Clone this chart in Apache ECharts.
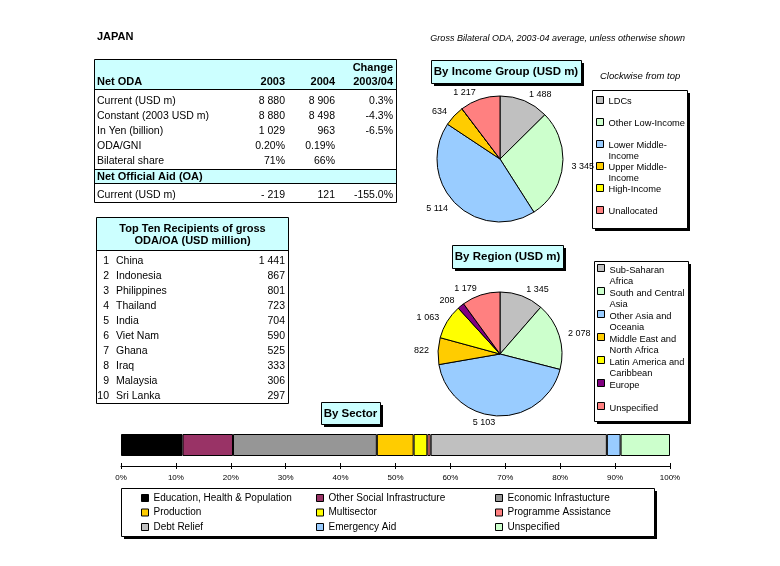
<!DOCTYPE html>
<html><head><meta charset="utf-8">
<script src="https://cdn.jsdelivr.net/npm/echarts@6/dist/echarts.min.js"></script>
<style>html,body{margin:0;padding:0;background:#fff}#c{width:780px;height:566px}</style>
</head><body><div id="c"></div>
<script>
const FONT = '"Liberation Sans", Arial, sans-serif';

// ---- Net ODA table ----
const odaHeaderTop = ['', '', '', 'Change'];
const odaHeader = ['Net ODA', '2003', '2004', '2003/04'];
const odaRowLabels = ['Current (USD m)', 'Constant (2003 USD m)', 'In Yen (billion)', 'ODA/GNI', 'Bilateral share'];
const oda2003 = ['8 880', '8 880', '1 029', '0.20%', '71%'];
const oda2004 = ['8 906', '8 498', '963', '0.19%', '66%'];
const odaChange = ['0.3%', '-4.3%', '-6.5%', '', ''];
const oaHeader = 'Net Official Aid (OA)';
const oaRow = ['Current (USD m)', '- 219', '121', '-155.0%'];

// ---- Top ten recipients ----
const recipientsTitle = ['Top Ten Recipients of gross', 'ODA/OA (USD million)'];
const recipientRanks = [1, 2, 3, 4, 5, 6, 7, 8, 9, 10];
const recipientNames = ['China', 'Indonesia', 'Philippines', 'Thailand', 'India', 'Viet Nam', 'Ghana', 'Iraq', 'Malaysia', 'Sri Lanka'];
const recipientValues = [1441, 867, 801, 723, 704, 590, 525, 333, 306, 297];

// ---- By income group ----
const incomeGroups = ['LDCs', 'Other Low-Income', 'Lower Middle-Income', 'Upper Middle-Income', 'High-Income', 'Unallocated'];
const incomeLegendText = ['LDCs', 'Other Low-Income', 'Lower Middle-\nIncome', 'Upper Middle-\nIncome', 'High-Income', 'Unallocated'];
const incomeValues = [1488, 3345, 5114, 634, 0, 1217];
const incomeColors = ['#C0C0C0', '#CCFFCC', '#99CCFF', '#FFCC00', '#FFFF00', '#FF8080'];

// ---- By region ----
const regions = ['Sub-Saharan Africa', 'South and Central Asia', 'Other Asia and Oceania', 'Middle East and North Africa', 'Latin America and Caribbean', 'Europe', 'Unspecified'];
const regionLegendText = ['Sub-Saharan\nAfrica', 'South and Central\nAsia', 'Other Asia and\nOceania', 'Middle East and\nNorth Africa', 'Latin America and\nCaribbean', 'Europe', 'Unspecified'];
const regionValues = [1345, 2078, 5103, 822, 1063, 208, 1179];
const regionColors = ['#C0C0C0', '#CCFFCC', '#99CCFF', '#FFCC00', '#FFFF00', '#800080', '#FF8080'];

// ---- By sector (% shares) ----
const sectors = ['Education, Health & Population', 'Other Social Infrastructure', 'Economic Infrastucture', 'Production', 'Multisector', 'Programme Assistance', 'Debt Relief', 'Emergency Aid', 'Unspecified'];
const sectorShares = [11.2, 9.2, 26.2, 6.7, 2.5, 0.6, 32.1, 2.5, 9.0];
const sectorColors = ['#000000', '#993366', '#969696', '#FFCC00', '#FFFF00', '#FF8080', '#C0C0C0', '#99CCFF', '#CCFFCC'];
const sectorLegendColumns = [[0, 3, 6], [1, 4, 7], [2, 5, 8]];

// ---- texts ----
const countryTitle = 'JAPAN';
const subtitle = 'Gross Bilateral ODA, 2003-04 average, unless otherwise shown';
const clockwiseNote = 'Clockwise from top';
const incomeTitle = 'By Income Group (USD m)';
const regionTitle = 'By Region (USD m)';
const sectorTitle = 'By Sector';

const fmt = v => String(v).replace(/\B(?=(\d{3})+(?!\d))/g, ' ');
const SECTOR_PREFIX = 'Sector: ';

function font(size, bold, italic) {
  return (italic ? 'italic ' : '') + (bold ? 'bold ' : '') + size + 'px ' + FONT;
}
function txt(text, x, y, o) {
  o = o || {};
  return { type: 'text', x: x, y: y, z: 20, silent: true,
    style: { text: text, font: font(o.size || 10.5, o.bold, o.italic), fill: '#000',
      align: o.align || 'left', verticalAlign: 'middle' } };
}
function rect(x, y, w, h, fill, stroke, z) {
  return { type: 'rect', z: z || 1, silent: true, shape: { x: x, y: y, width: w, height: h },
    style: { fill: fill || 'none', stroke: stroke || null, lineWidth: 1 } };
}
function hline(x1, x2, y) {
  return { type: 'line', z: 3, silent: true, shape: { x1: x1, y1: y, x2: x2, y2: y }, style: { stroke: '#000', lineWidth: 1 } };
}
function shadowBox(x, y, w, h, fill) {
  return [rect(x + 3, y + 3, w, h, '#000', null, 1), rect(x + 0.5, y + 0.5, w, h, fill, '#000', 2)];
}

const g = [];
// headings
g.push(txt(countryTitle, 97, 37, { size: 11, bold: true }));
g.push(txt(subtitle, 685, 38, { size: 9, italic: true, align: 'right' }));
g.push(txt(clockwiseNote, 600, 76, { size: 9.5, italic: true }));

// Table 1
g.push(rect(94.5, 59.5, 302, 30, '#CCFFFF', null, 1));
g.push(rect(94.5, 169.5, 302, 14, '#CCFFFF', null, 1));
g.push(rect(94.5, 59.5, 302, 143, 'none', '#000', 3));
g.push(hline(94.5, 396.5, 89.5));
g.push(hline(94.5, 396.5, 169.5));
g.push(hline(94.5, 396.5, 183.5));
const t1ColX = [97, 285, 335, 393];
const t1Align = ['left', 'right', 'right', 'right'];
odaHeaderTop.forEach((s, i) => { if (s) g.push(txt(s, t1ColX[i], 68, { bold: true, size: 11, align: t1Align[i] })); });
odaHeader.forEach((s, i) => g.push(txt(s, t1ColX[i], 82, { bold: true, size: 11, align: t1Align[i] })));
odaRowLabels.forEach((lab, r) => {
  const y = 101 + r * 15;
  [lab, oda2003[r], oda2004[r], odaChange[r]].forEach((s, i) => { if (s) g.push(txt(s, t1ColX[i], y, { align: t1Align[i] })); });
});
g.push(txt(oaHeader, 97, 176.5, { bold: true, size: 11 }));
oaRow.forEach((s, i) => g.push(txt(s, t1ColX[i], 195, { align: t1Align[i] })));

// Table 2
g.push(rect(96.5, 217.5, 192, 33, '#CCFFFF', null, 1));
g.push(rect(96.5, 217.5, 192, 186, 'none', '#000', 3));
g.push(hline(96.5, 288.5, 250.5));
recipientsTitle.forEach((s, i) => g.push(txt(s, 192.5, 229 + i * 12, { bold: true, size: 11, align: 'center' })));
recipientNames.forEach((n, r) => {
  const y = 261 + r * 15;
  g.push(txt(String(recipientRanks[r]), 109, y, { align: 'right' }));
  g.push(txt(n, 116, y));
  g.push(txt(fmt(recipientValues[r]), 285, y, { align: 'right' }));
});

// title boxes
g.push(...shadowBox(431, 60, 150, 23, '#CCFFFF'));
g.push(txt(incomeTitle, 506, 72, { bold: true, size: 11.5, align: 'center' }));
g.push(...shadowBox(452, 245, 111, 23, '#CCFFFF'));
g.push(txt(regionTitle, 507.5, 257, { bold: true, size: 11.5, align: 'center' }));
g.push(...shadowBox(321, 402, 59, 22, '#CCFFFF'));
g.push(txt(sectorTitle, 350.5, 413.5, { bold: true, size: 11.5, align: 'center' }));

// legend boxes
g.push(...shadowBox(592, 90, 95, 138, '#fff'));
g.push(...shadowBox(594, 261, 94, 160, '#fff'));
g.push(...shadowBox(121, 488, 533, 48, '#fff'));

const pieLabel = {
  show: true, position: 'outside', fontSize: 9, fontFamily: FONT, color: '#000',
  distanceToLabelLine: 2, formatter: p => fmt(p.value)
};

const option = {
  animation: false,
  backgroundColor: '#fff',
  textStyle: { fontFamily: FONT },
  graphic: { elements: g },
  grid: { left: 121, width: 549, top: 434, height: 22, containLabel: false },
  xAxis: [
    { type: 'value', min: 0, max: 100, interval: 10, position: 'bottom', offset: 10,
      axisLine: { show: true, lineStyle: { color: '#000', width: 1 } },
      axisTick: { show: true, length: 3, lineStyle: { color: '#000' } },
      axisLabel: { formatter: '{value}%', fontSize: 8, color: '#000', margin: 8, fontFamily: FONT },
      splitLine: { show: false } },
    { type: 'value', min: 0, max: 100, interval: 10, position: 'bottom', offset: 10, gridIndex: 0,
      axisLine: { show: false },
      axisTick: { show: true, inside: true, length: 3, lineStyle: { color: '#000' } },
      axisLabel: { show: false }, splitLine: { show: false } }
  ],
  yAxis: { type: 'category', data: ['Sector'], show: false },
  legend: [
    { orient: 'vertical', left: 596, top: 96, padding: 0, itemGap: 0, itemWidth: 7, itemHeight: 21,
      icon: 'path://M0,0h7v7h-7z M0,21', selectedMode: false,
      itemStyle: { borderColor: '#000', borderWidth: 1 },
      textStyle: { fontSize: 9.3, lineHeight: 10.5, color: '#000', fontFamily: FONT },
      data: incomeGroups,
      formatter: n => { const t = incomeLegendText[incomeGroups.indexOf(n)]; return t.indexOf('\n') < 0 ? t + '\n ' : t; } },
    { orient: 'vertical', left: 597, top: 264, padding: 0, itemGap: 0, itemWidth: 7, itemHeight: 22,
      icon: 'path://M0,0h7v7h-7z M0,22', selectedMode: false,
      itemStyle: { borderColor: '#000', borderWidth: 1 },
      textStyle: { fontSize: 9.3, lineHeight: 11, color: '#000', fontFamily: FONT },
      data: regions,
      formatter: n => { const t = regionLegendText[regions.indexOf(n)]; return t.indexOf('\n') < 0 ? t + '\n ' : t; } },
  ].concat(sectorLegendColumns.map((col, ci) => ({
      orient: 'vertical', left: [141, 316, 495][ci], top: 492, padding: 0, itemGap: 2.5,
      itemWidth: 7, itemHeight: 7, icon: 'rect', selectedMode: false,
      itemStyle: { borderColor: '#000', borderWidth: 1 },
      textStyle: { fontSize: 10, lineHeight: 12, color: '#000', fontFamily: FONT },
      data: col.map(i => SECTOR_PREFIX + sectors[i]),
      formatter: n => n.slice(SECTOR_PREFIX.length)
  }))),
  series: [
    { type: 'pie', name: 'Income', center: [500, 159], radius: 63, startAngle: 90, clockwise: true,
      avoidLabelOverlap: false, minShowLabelAngle: 0.5, z: 5,
      itemStyle: { borderColor: '#000', borderWidth: 1 },
      label: pieLabel, labelLine: { show: false, length: 7, length2: 0 },
      emphasis: { disabled: true },
      data: incomeGroups.map((n, i) => ({ name: n, value: incomeValues[i], itemStyle: { color: incomeColors[i] } })) },
    { type: 'pie', name: 'Region', center: [500, 354], radius: 62, startAngle: 90, clockwise: true,
      avoidLabelOverlap: false, minShowLabelAngle: 0.5, z: 5,
      itemStyle: { borderColor: '#000', borderWidth: 1 },
      label: pieLabel, labelLine: { show: false, length: 7, length2: 0 },
      emphasis: { disabled: true },
      data: regions.map((n, i) => ({ name: n, value: regionValues[i], itemStyle: { color: regionColors[i] } })) }
  ].concat(sectors.map((s, i) => ({
    type: 'bar', name: SECTOR_PREFIX + s, stack: 'sector', xAxisIndex: 0, yAxisIndex: 0,
    barWidth: 22, data: [sectorShares[i]],
    itemStyle: { color: sectorColors[i], borderColor: '#000', borderWidth: 1 },
    emphasis: { disabled: true }
  })))
};

const chart = echarts.init(document.getElementById('c'), null, { renderer: 'canvas' });
chart.setOption(option);
</script>
</body></html>
